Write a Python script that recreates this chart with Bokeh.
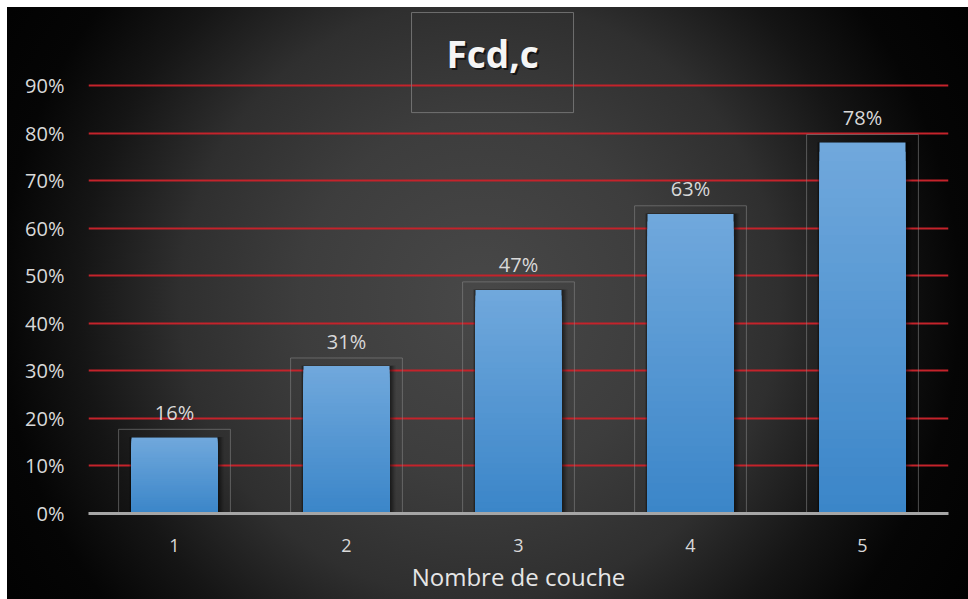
import numpy as np
from bokeh.plotting import figure
from bokeh.models import Range1d, FixedTicker, NumeralTickFormatter, Label, ColumnDataSource
from bokeh.core.properties import value
from bokeh.embed import file_html
from bokeh.resources import INLINE

# Data
categories = [1, 2, 3, 4, 5]
tick_labels = ["1", "2", "3", "4", "5"]
fcd_c = [0.16, 0.31, 0.47, 0.63, 0.78]
value_labels = ["16%", "31%", "47%", "63%", "78%"]
y_ticks = [0.0, 0.1, 0.2, 0.3, 0.4, 0.5, 0.6, 0.7, 0.8, 0.9]

FONT = "Open Sans"
TXT = "#d9d9d9"

p = figure(width=968, height=599, output_backend="svg", toolbar_location=None,
           x_range=Range1d(0.5, 5.5), y_range=Range1d(0, 1.064),
           min_border_left=88, min_border_right=20, min_border_top=7, min_border_bottom=86)
p.background_fill_alpha = 0
p.border_fill_color = None
p.outline_line_color = None
p.styles = {
    "background": (
        "linear-gradient(#fff,#fff) left top / 7px 100% no-repeat, "
        "linear-gradient(#fff,#fff) left top / 100% 7px no-repeat, "
        "radial-gradient(circle at 480px 300px, #484848 0px, #3d3d3d 180px, "
        "#2f2f2f 300px, #151515 400px, #050505 480px, #000 600px)"
    )
}

# Axes
p.yaxis.ticker = FixedTicker(ticks=y_ticks)
p.yaxis.formatter = NumeralTickFormatter(format="0%")
p.yaxis.axis_line_color = None
p.yaxis.major_tick_line_color = None
p.yaxis.minor_tick_line_color = None
p.yaxis.major_label_text_font = FONT
p.yaxis.major_label_text_font_size = "20px"
p.yaxis.major_label_text_color = TXT
p.yaxis.major_label_standoff = 18

p.xaxis.ticker = FixedTicker(ticks=categories)
p.xaxis.major_label_overrides = {c: t for c, t in zip(categories, tick_labels)}
p.xaxis.axis_line_color = "#a6a6a6"
p.xaxis.axis_line_width = 3
p.xaxis.major_tick_line_color = None
p.xaxis.minor_tick_line_color = None
p.xaxis.major_label_text_font = FONT
p.xaxis.major_label_text_font_size = "18px"
p.xaxis.major_label_text_color = TXT
p.xaxis.major_label_standoff = 19
p.xaxis.axis_label = "Nombre de couche"
p.xaxis.axis_label_text_font = FONT
p.xaxis.axis_label_text_font_size = "24px"
p.xaxis.axis_label_text_font_style = "normal"
p.xaxis.axis_label_text_color = "#e6e6e6"
p.xaxis.axis_label_standoff = 5

p.xgrid.grid_line_color = None
p.ygrid.ticker = FixedTicker(ticks=y_ticks)
p.ygrid.grid_line_color = "#c4232b"
p.ygrid.grid_line_width = 2

cats = np.array(categories, dtype=float)
vals = np.array(fcd_c)

# Outline frames behind each bar
p.quad(left=cats - 0.325, right=cats + 0.325, bottom=0, top=vals + 0.017,
       fill_alpha=0, line_color="#8a8a8a", line_alpha=0.55, line_width=1)

# Soft shadow around the bars
for k, a in enumerate([0.10, 0.12, 0.16, 0.22]):
    grow = 0.035 - 0.008 * k
    p.quad(left=cats - 0.25 - grow * 0.4, right=cats + 0.25 + grow, bottom=0,
           top=vals + grow * 0.03, fill_color="black", fill_alpha=a, line_color=None)

# Bars with a vertical gradient: nested quads from the axis up to a fraction
# of each value, tallest (lightest) first so that no seams show
n_steps = 40
top_col = np.array([0x70, 0xa8, 0xdc])
bot_col = np.array([0x3a, 0x85, 0xc8])
lefts, rights, tops, colors = [], [], [], []
for i in range(n_steps, 0, -1):
    t = i / n_steps
    col = bot_col + (top_col - bot_col) * t
    hexcol = "#%02x%02x%02x" % tuple(int(round(x)) for x in col)
    for c, v in zip(cats, vals):
        lefts.append(c - 0.25)
        rights.append(c + 0.25)
        tops.append(v * t)
        colors.append(hexcol)
p.quad(left=lefts, right=rights, bottom=0, top=tops, fill_color=colors, line_color=None)

# Value labels above bars
src = ColumnDataSource(dict(x=categories, y=fcd_c, label=value_labels))
p.text(x="x", y="y", text="label", source=src, text_align="center",
       text_baseline="alphabetic", y_offset=-25, text_font=value(FONT),
       text_font_size="20px", text_color=TXT)

# Chart title (with a drop shadow) and its frame
p.quad(left=[2.378], right=[3.32], bottom=[0.843], top=[1.0534],
       fill_alpha=0, line_color="#7a7a7a", line_alpha=0.85, line_width=1)
p.add_layout(Label(x=2.85, y=0.967, x_offset=2, y_offset=-2, text="Fcd,c",
                   text_align="center", text_baseline="middle", text_font=FONT,
                   text_font_size="37px", text_font_style="bold",
                   text_color="black", text_alpha=0.6))
p.add_layout(Label(x=2.85, y=0.967, text="Fcd,c", text_align="center",
                   text_baseline="middle", text_font=FONT, text_font_size="37px",
                   text_font_style="bold", text_color="#f5f5f5"))

open("out.html", "w").write(file_html(p, INLINE))
